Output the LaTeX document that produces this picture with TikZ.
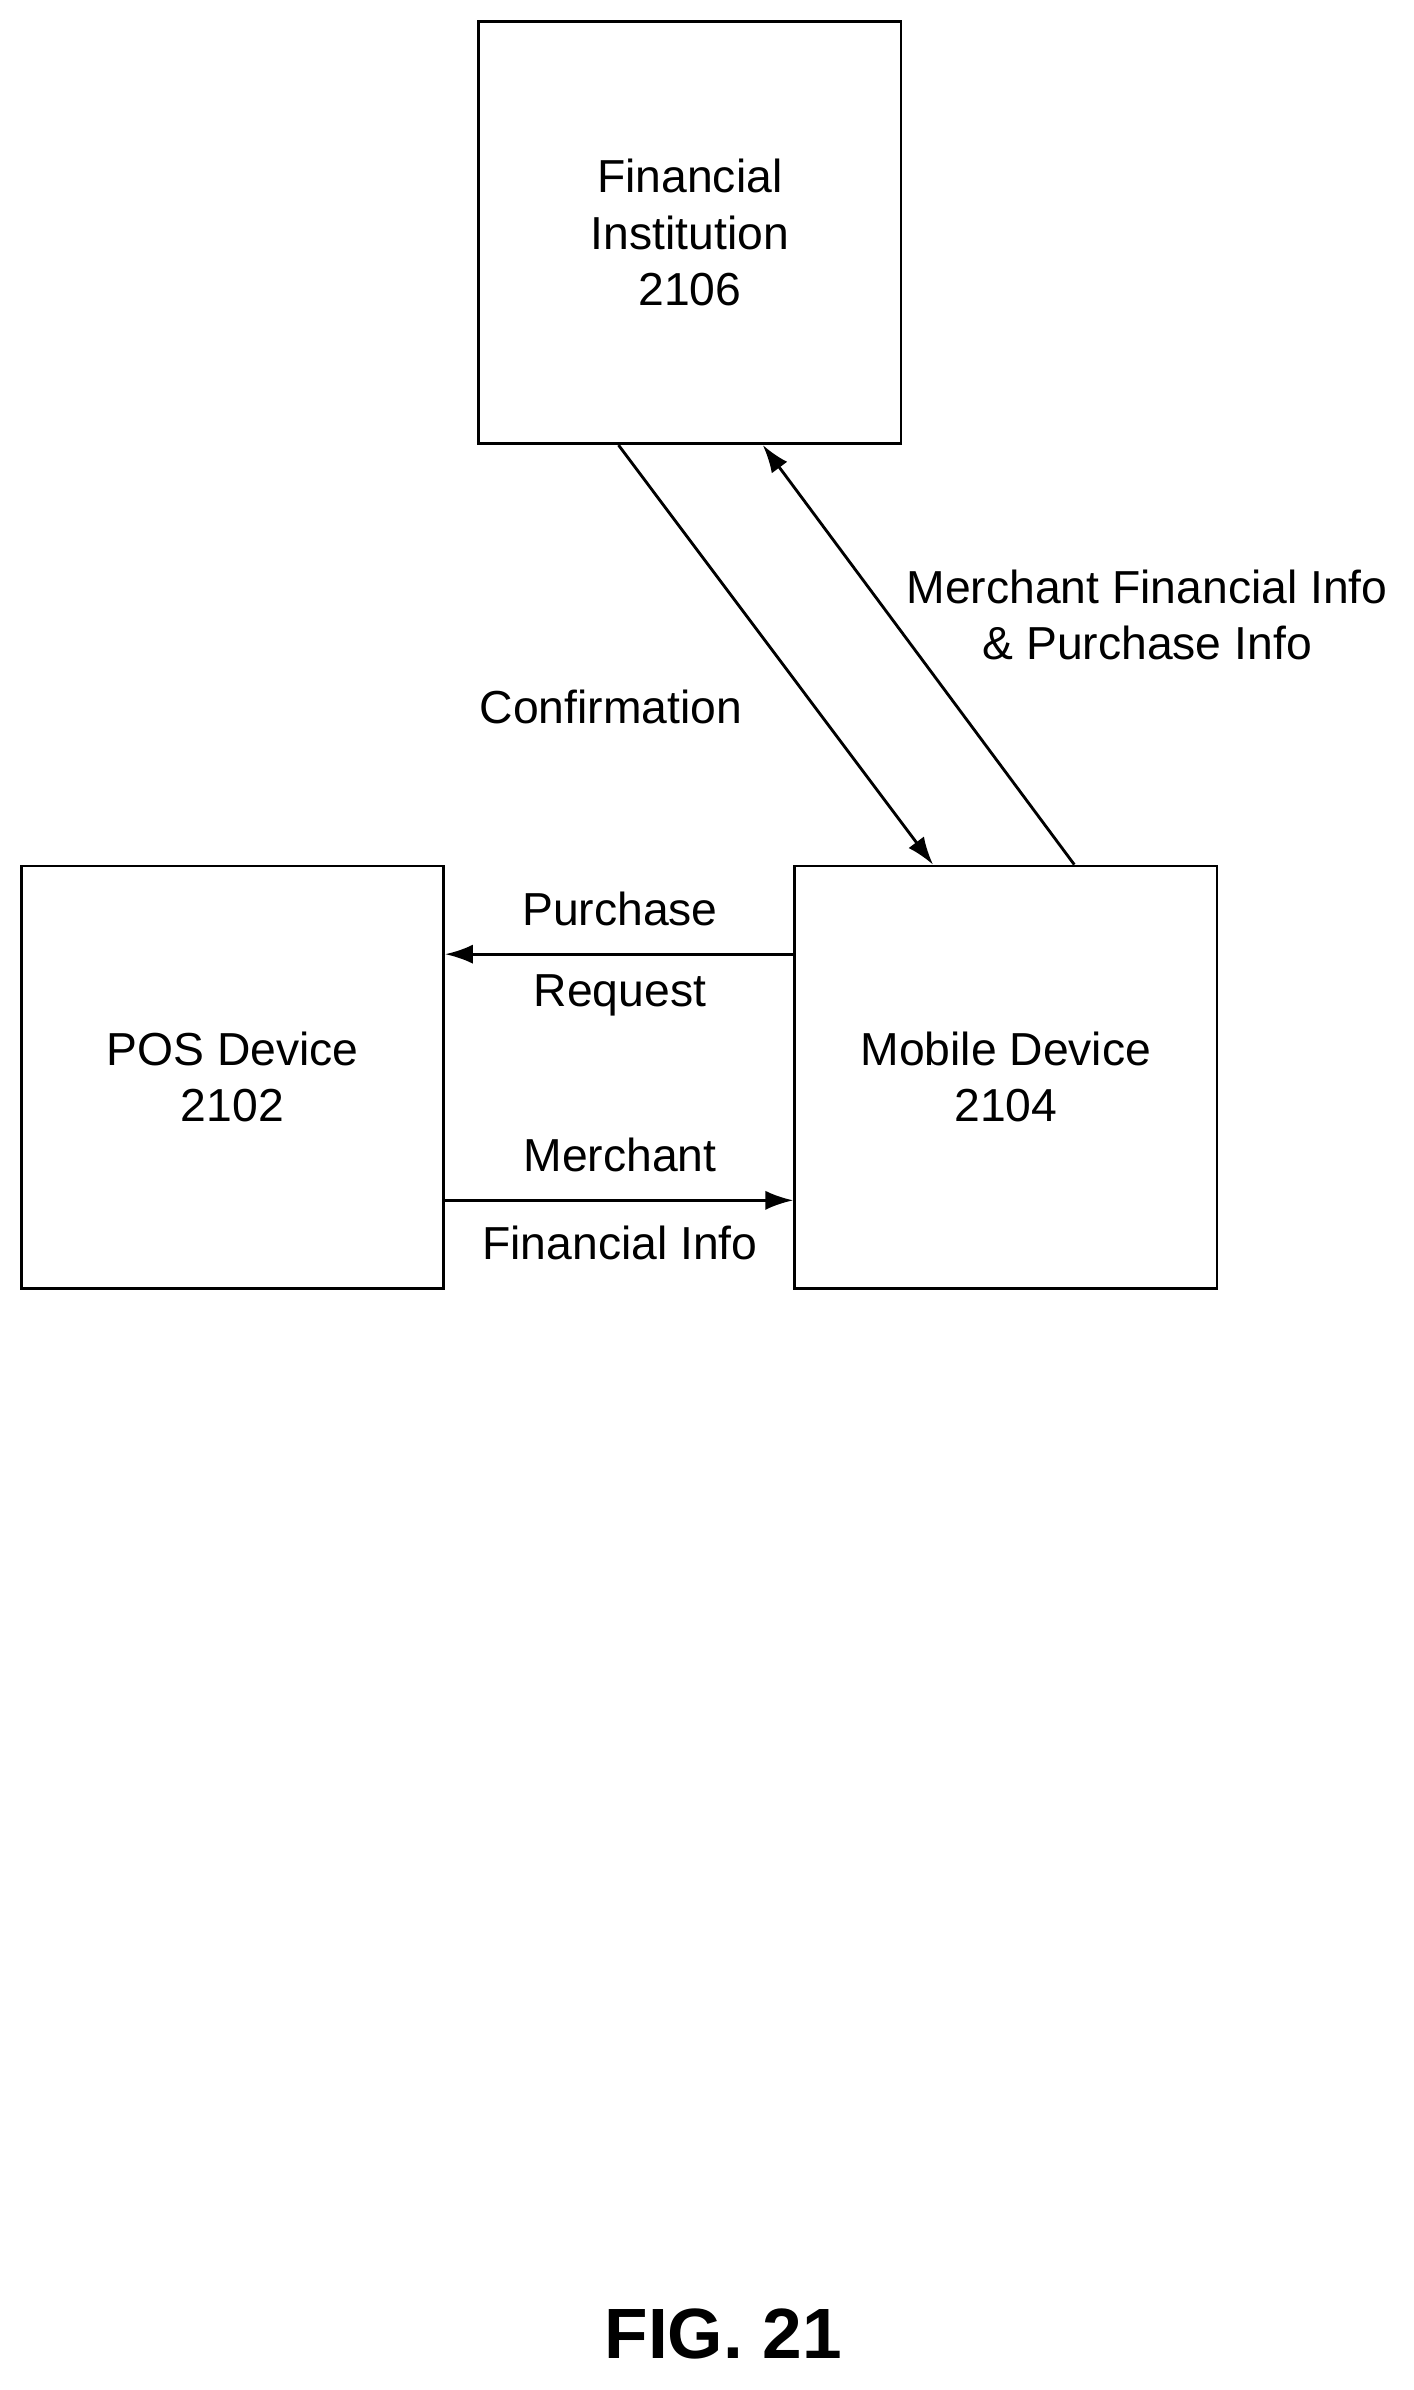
\documentclass[tikz,border=0pt]{standalone}
\usepackage{fontspec}
\setmainfont{Liberation Sans}
\usetikzlibrary{arrows.meta}
\tikzset{
  blk/.style={draw, line width=1.6pt, minimum size=8.34cm, align=center,
    font=\fontsize{26}{31.5}\selectfont},
  lbl/.style={align=center, font=\fontsize{26}{31.5}\selectfont},
  arr/.style={-{Latex[length=0.55cm,width=0.38cm]}, line width=1.6pt}
}
\begin{document}
\begin{tikzpicture}[x=0.03cm,y=-0.03cm]
    \useasboundingbox (0,0) rectangle (930,1573);
    % Boxes
    \node[blk] (fi) at (454,153) {Financial\\Institution\\2106};
    \node[blk] (pos) at (153,709) {POS Device\\2102};
    \node[blk] (mob) at (662,709) {Mobile Device\\2104};

    % Arrows between institution and mobile device
    \draw[arr] ([xshift=2.79cm]fi.south west) -- ([xshift=2.76cm]mob.north west);
    \draw[arr] ([xshift=5.55cm]mob.north west) -- ([xshift=5.64cm]fi.south west);
    \node[lbl] (conf) at (402,465) {Confirmation};
    \node[lbl] (mfi) at (755,405) {Merchant Financial Info\\\& Purchase Info};

    % Arrows between POS and mobile device
    \draw[arr] ([yshift=2.43cm]mob.west) -- ([yshift=2.43cm]pos.east);
    \draw[arr] ([yshift=-2.43cm]pos.east) -- ([yshift=-2.43cm]mob.west);
    \node[lbl] (pur) at (408,598) {Purchase};
    \node[lbl] (req) at (408,655) {Request};
    \node[lbl] (mer) at (408,760) {Merchant};
    \node[lbl] (fin) at (408,818) {Financial Info};

    \node[font=\bfseries\fontsize{40}{48}\selectfont] (fig) at (476,1536) {FIG. 21};
\end{tikzpicture}
\end{document}
